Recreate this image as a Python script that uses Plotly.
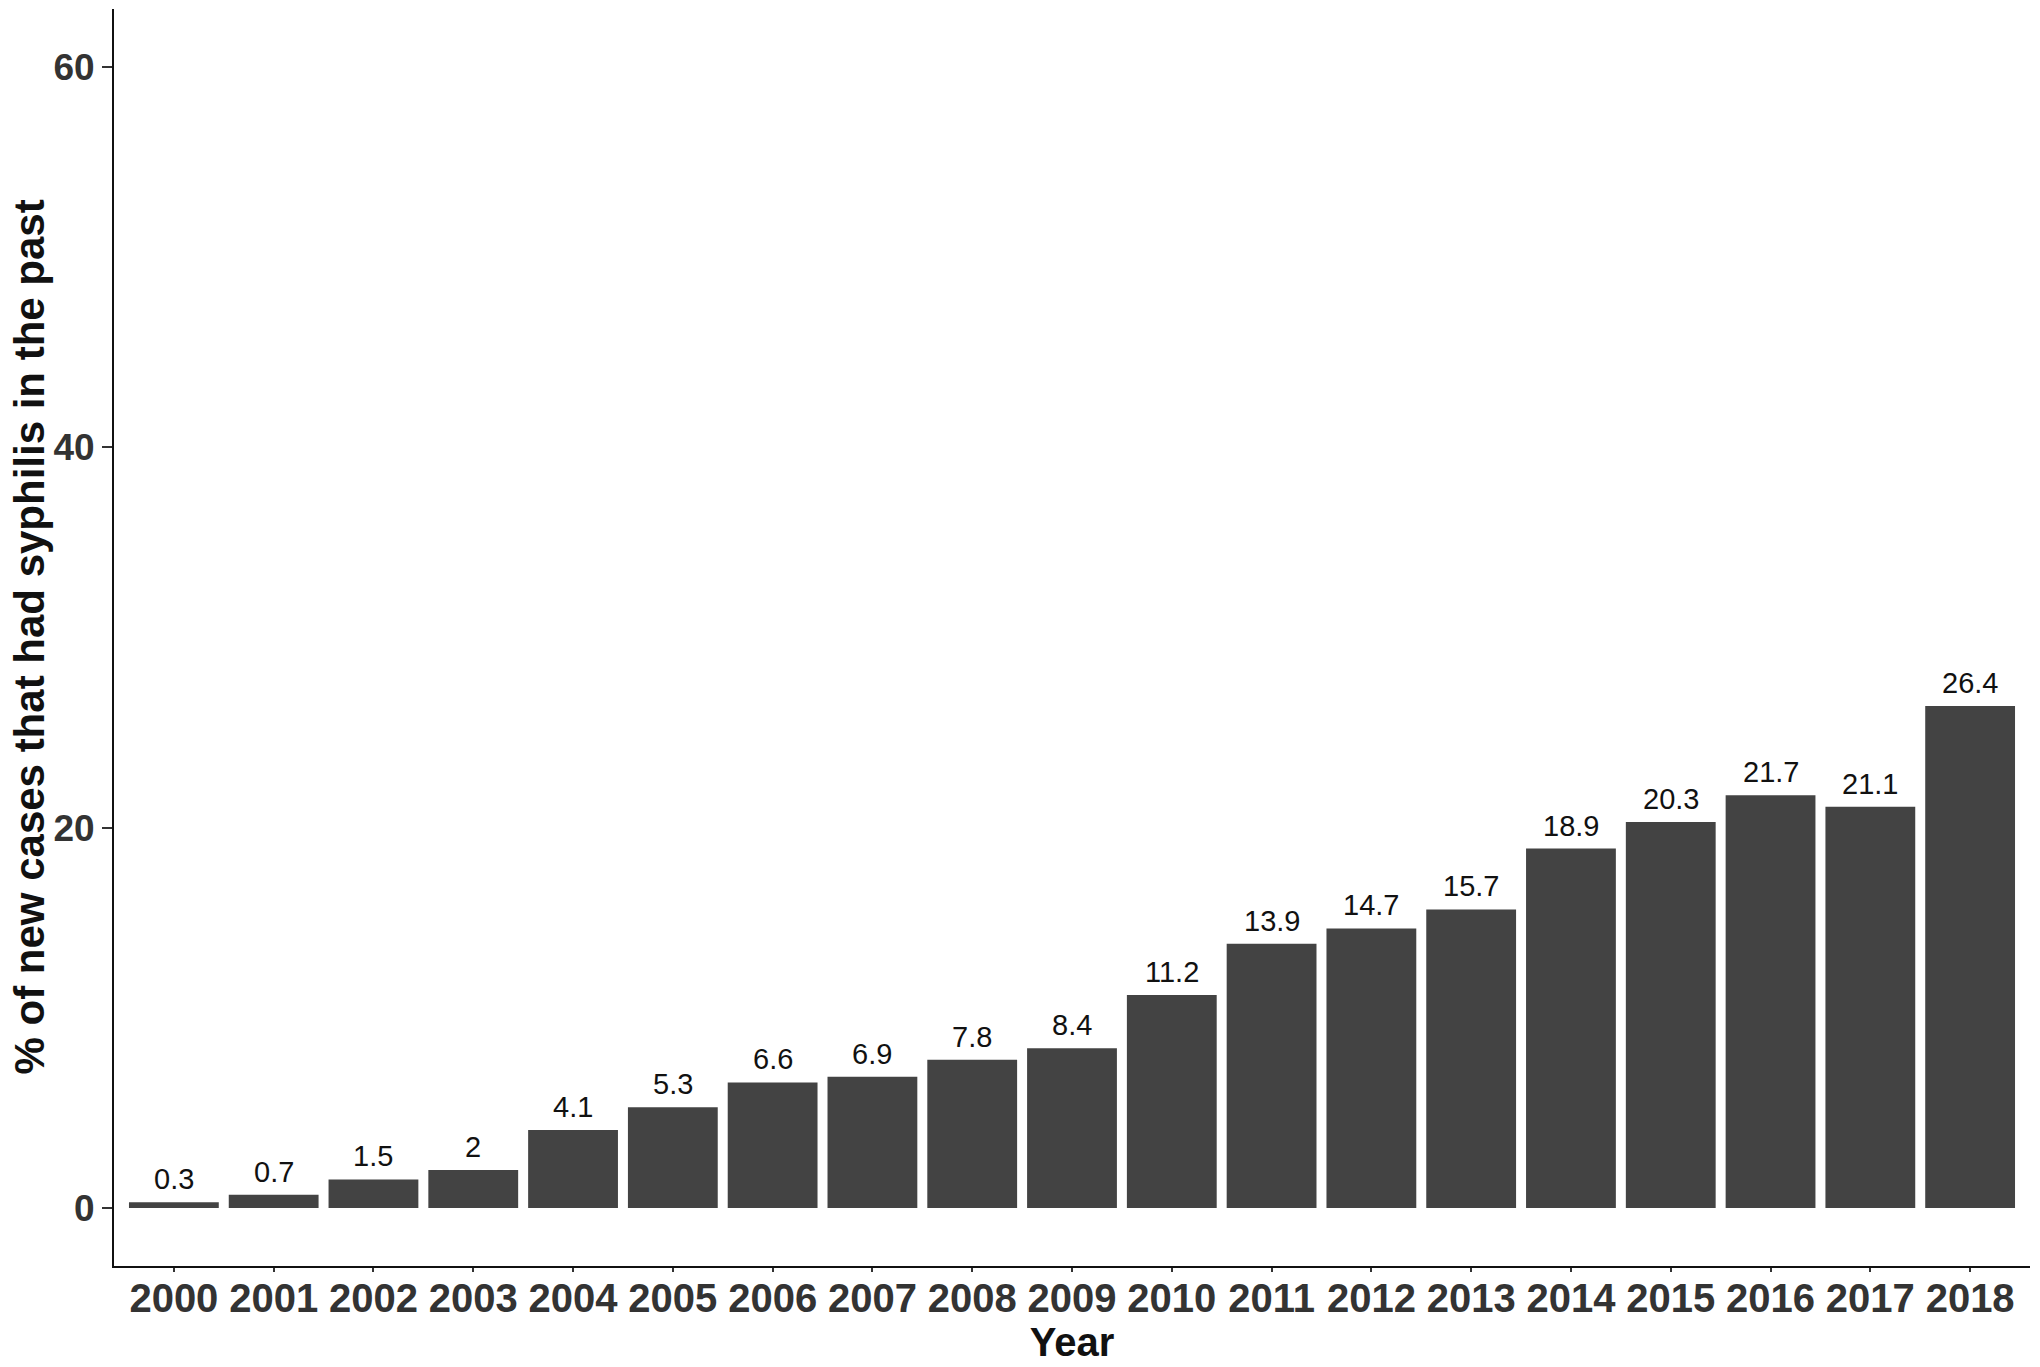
import plotly.graph_objects as go

years = [str(y) for y in range(2000, 2019)]
values = [0.3, 0.7, 1.5, 2, 4.1, 5.3, 6.6, 6.9, 7.8, 8.4, 11.2, 13.9, 14.7, 15.7, 18.9, 20.3, 21.7, 21.1, 26.4]
labels = ["0.3", "0.7", "1.5", "2", "4.1", "5.3", "6.6", "6.9", "7.8", "8.4", "11.2", "13.9", "14.7", "15.7", "18.9", "20.3", "21.7", "21.1", "26.4"]
y_ticks = [0, 20, 40, 60]
x_title = "Year"
y_title = "% of new cases that had syphilis in the past"

FONT = "Liberation Sans, Arial, sans-serif"

fig = go.Figure()
fig.add_trace(go.Bar(
    x=years, y=values,
    marker=dict(color="#434343", line=dict(width=0)),
    width=0.9,
))

for i, (v, lab) in enumerate(zip(values, labels)):
    fig.add_annotation(
        x=i, y=v, xref="x", yref="y", text=lab, showarrow=False,
        yanchor="middle", yshift=23,
        font=dict(family=FONT, size=29, color="#111111"),
    )

# y-axis title placed explicitly to the left of the tick labels
fig.add_annotation(
    x=0, y=0.5, xref="paper", yref="paper", text="<b>" + y_title + "</b>",
    showarrow=False, textangle=-90, xanchor="center", yanchor="middle",
    xshift=-85, borderpad=0,
    font=dict(family=FONT, size=42, color="#111111"),
)

fig.update_layout(
    width=2040, height=1367,
    margin=dict(l=106, r=18, t=1, b=109, autoexpand=False),
    plot_bgcolor="white", paper_bgcolor="white",
    showlegend=False,
    bargap=0.1,
    font=dict(family=FONT),
)
fig.update_xaxes(
    type="category", range=[-0.6, 18.6], automargin=False,
    showline=True, linecolor="#111111", linewidth=2,
    ticks="outside", ticklen=4, tickwidth=2, tickcolor="#333333",
    tickfont=dict(family=FONT, size=40, color="#333333", weight="bold"),
    ticklabelstandoff=-8,
    showgrid=False, zeroline=False,
    title=dict(text="<b>" + x_title + "</b>", font=dict(family=FONT, size=40, color="#111111"), standoff=6),
)
fig.update_yaxes(
    range=[-3.05, 63.05], tickvals=y_ticks, automargin=False,
    showline=True, linecolor="#111111", linewidth=2,
    ticks="outside", ticklen=10, tickwidth=2, tickcolor="#333333",
    tickfont=dict(family=FONT, size=37, color="#333333", weight="bold"),
    showgrid=False, zeroline=False,
)

fig.write_html("out.html")
